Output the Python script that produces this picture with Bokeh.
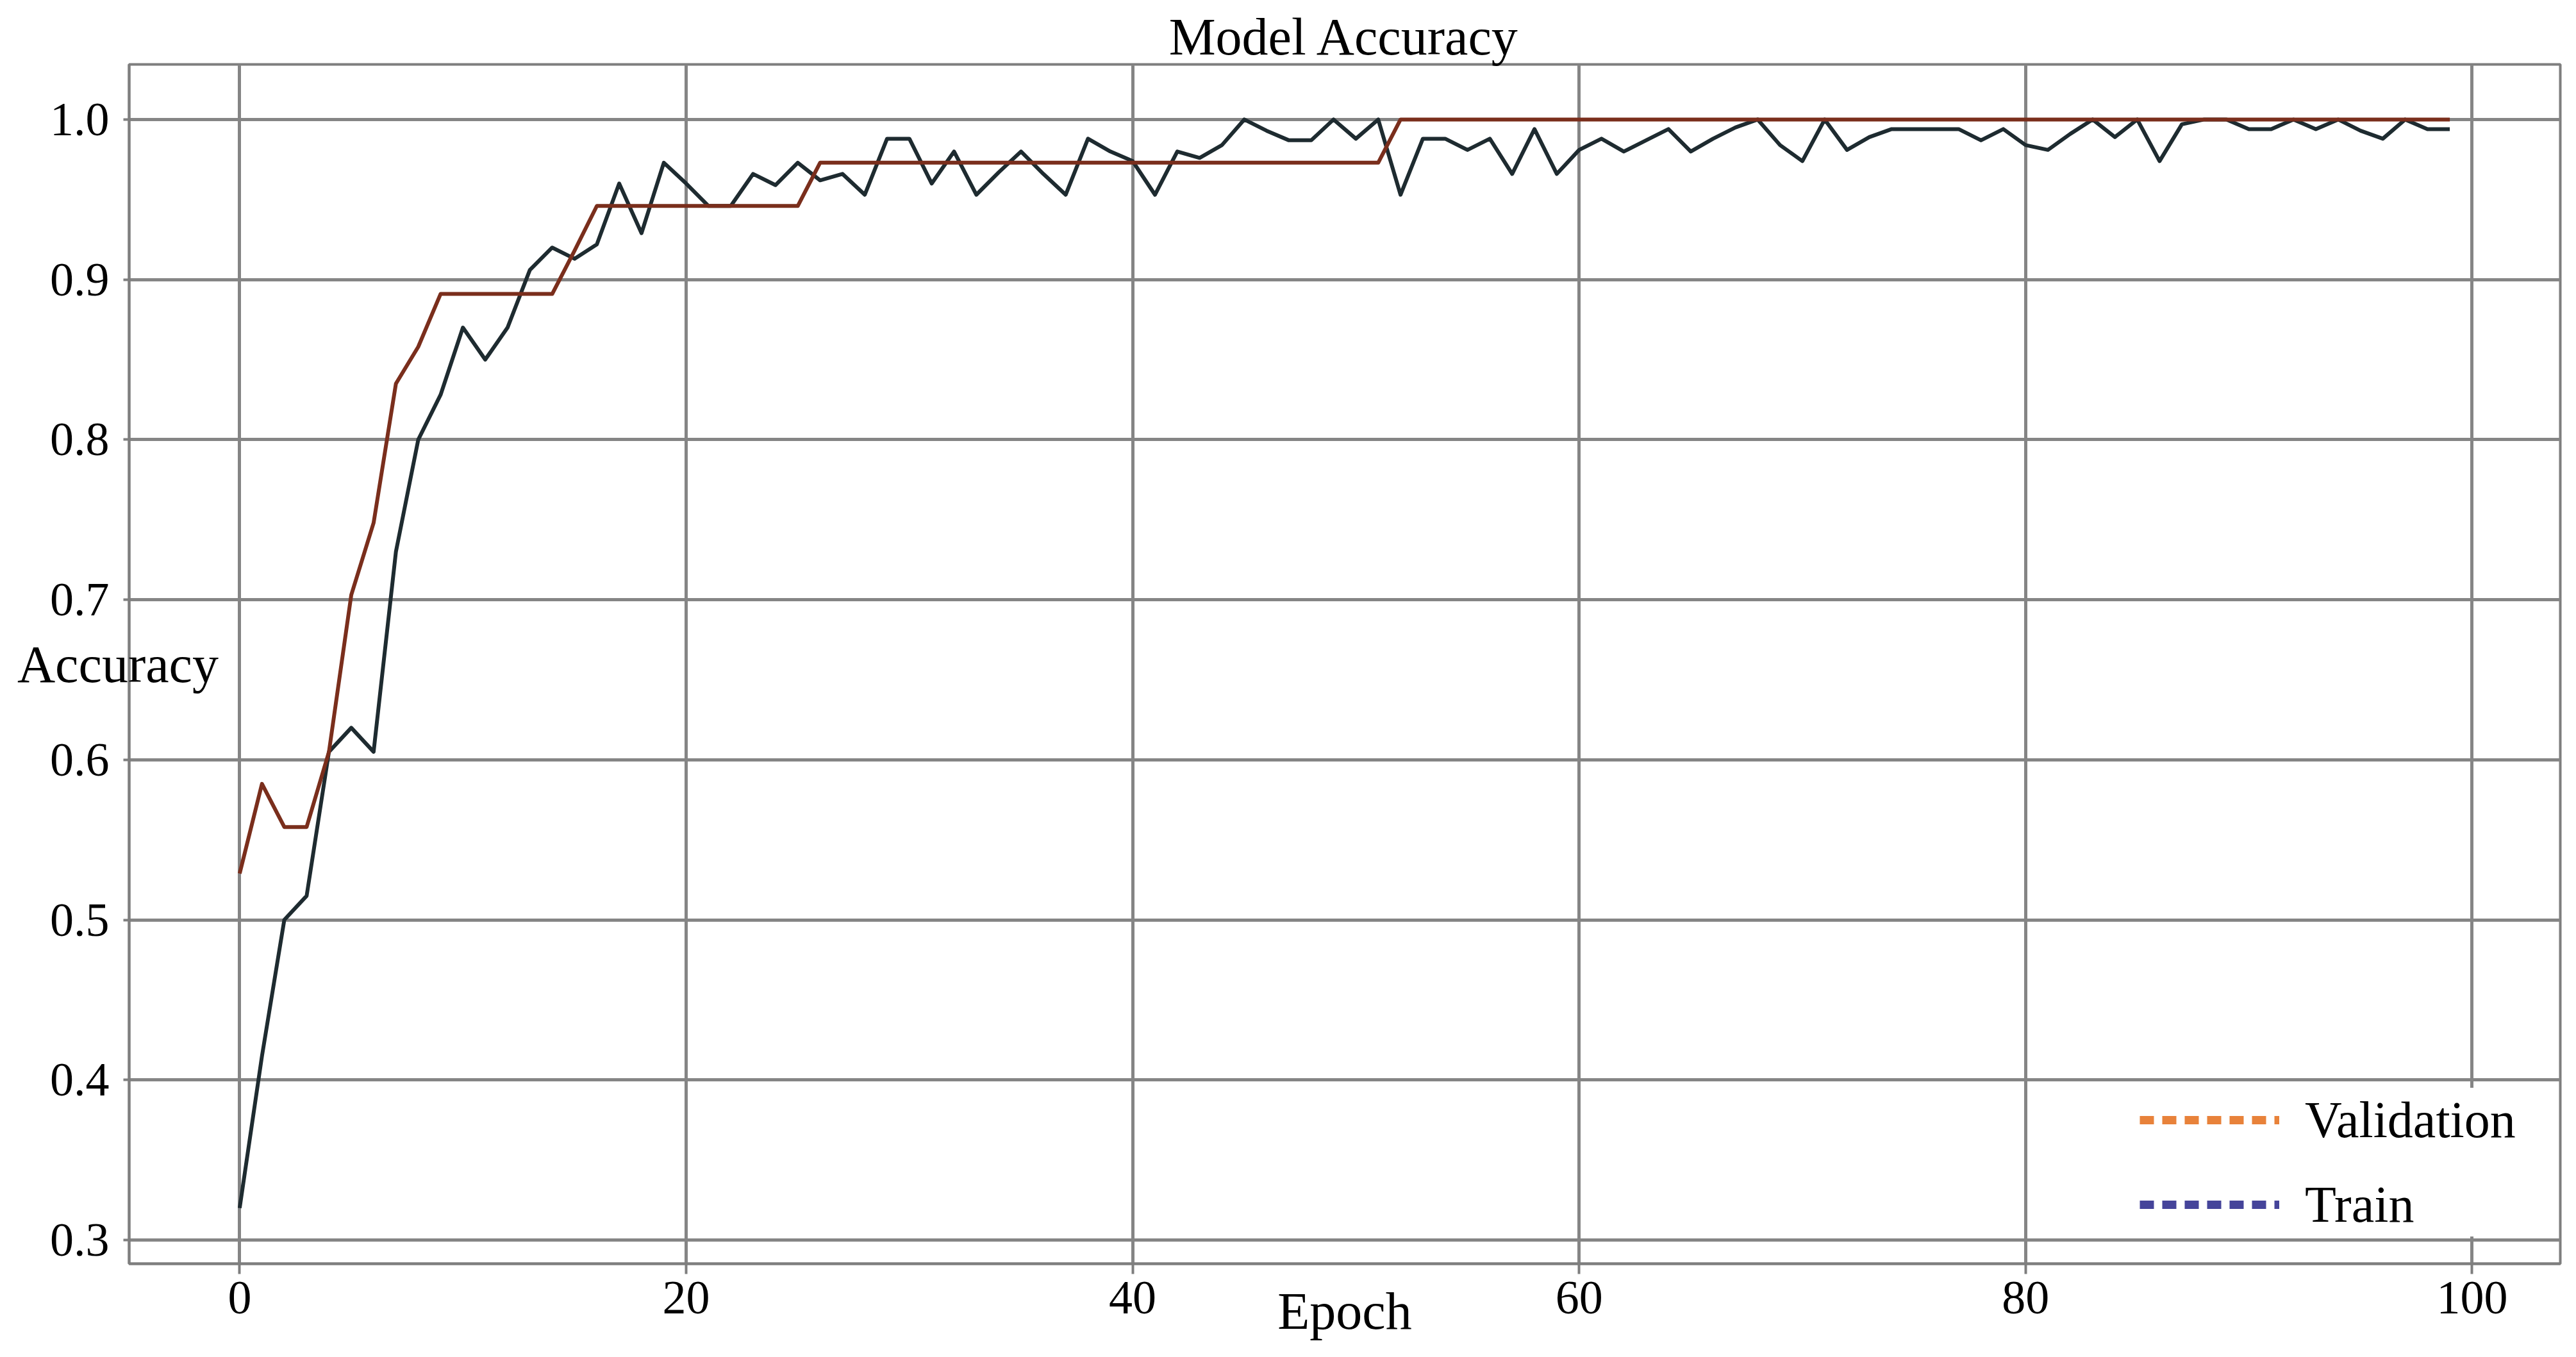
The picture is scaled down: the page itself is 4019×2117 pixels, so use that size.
from bokeh.plotting import figure
from bokeh.models import (Range1d, FixedTicker, Legend, LegendItem, ColumnDataSource,
                          PrintfTickFormatter)
from bokeh.embed import file_html
from bokeh.resources import INLINE

# ---------------- data ----------------
epochs = list(range(100))

train_acc = [
    0.320, 0.415, 0.500, 0.515, 0.605, 0.620, 0.605, 0.730, 0.800, 0.828,
    0.870, 0.850, 0.870, 0.906, 0.920, 0.913, 0.922, 0.960, 0.929, 0.973,
    0.960, 0.946, 0.946, 0.966, 0.959, 0.973, 0.962, 0.966, 0.953, 0.988,
    0.988, 0.960, 0.980, 0.953, 0.967, 0.980, 0.966, 0.953, 0.988, 0.980,
    0.974, 0.953, 0.980, 0.976, 0.984, 1.000, 0.993, 0.987, 0.987, 1.000,
    0.988, 1.000, 0.953, 0.988, 0.988, 0.981, 0.988, 0.966, 0.994, 0.966,
    0.981, 0.988, 0.980, 0.987, 0.994, 0.980, 0.988, 0.995, 1.000, 0.984,
    0.974, 1.000, 0.981, 0.989, 0.994, 0.994, 0.994, 0.994, 0.987, 0.994,
    0.984, 0.981, 0.991, 1.000, 0.989, 1.000, 0.974, 0.997, 1.000, 1.000,
    0.994, 0.994, 1.000, 0.994, 1.000, 0.993, 0.988, 1.000, 0.994, 0.994,
]

val_acc = [
    0.529, 0.585, 0.558, 0.558, 0.605, 0.703, 0.748, 0.835, 0.858, 0.891,
    0.891, 0.891, 0.891, 0.891, 0.891, 0.918, 0.946, 0.946, 0.946, 0.946,
    0.946, 0.946, 0.946, 0.946, 0.946, 0.946, 0.973, 0.973, 0.973, 0.973,
    0.973, 0.973, 0.973, 0.973, 0.973, 0.973, 0.973, 0.973, 0.973, 0.973,
    0.973, 0.973, 0.973, 0.973, 0.973, 0.973, 0.973, 0.973, 0.973, 0.973,
    0.973, 0.973, 1.000, 1.000, 1.000, 1.000, 1.000, 1.000, 1.000, 1.000,
    1.000, 1.000, 1.000, 1.000, 1.000, 1.000, 1.000, 1.000, 1.000, 1.000,
    1.000, 1.000, 1.000, 1.000, 1.000, 1.000, 1.000, 1.000, 1.000, 1.000,
    1.000, 1.000, 1.000, 1.000, 1.000, 1.000, 1.000, 1.000, 1.000, 1.000,
    1.000, 1.000, 1.000, 1.000, 1.000, 1.000, 1.000, 1.000, 1.000, 1.000,
]

x_ticks = [0, 20, 40, 60, 80, 100]
y_ticks = [0.3, 0.4, 0.5, 0.6, 0.7, 0.8, 0.9, 1.0]
series_names = ["Validation", "Train"]

# ---------------- styling ----------------
SERIF = "Liberation Serif"
GRID = "#858585"
FRAME = "#7e7e7e"

p = figure(
    width=4003, height=2111,
    output_backend="svg", toolbar_location=None,
    x_range=Range1d(-4.95, 103.95), y_range=Range1d(0.2852, 1.0344),
    min_border_left=201, min_border_right=9,
    min_border_top=100, min_border_bottom=140,
    background_fill_color="white", border_fill_color="white",
)

p.title.text = "Model Accuracy"
p.title.align = "center"
p.title.text_font = SERIF
p.title.text_font_size = "82px"
p.title.text_font_style = "normal"
p.title.text_color = "black"
p.title.standoff = -5

# grid
p.xgrid.grid_line_color = GRID
p.xgrid.grid_line_width = 5
p.ygrid.grid_line_color = GRID
p.ygrid.grid_line_width = 5
p.xgrid.ticker = FixedTicker(ticks=x_ticks)
p.ygrid.ticker = FixedTicker(ticks=y_ticks)

# axes
p.xaxis.ticker = FixedTicker(ticks=x_ticks)
p.yaxis.ticker = FixedTicker(ticks=y_ticks)
p.yaxis.formatter = PrintfTickFormatter(format="%.1f")
for ax in (p.xaxis[0], p.yaxis[0]):
    ax.axis_line_color = FRAME
    ax.axis_line_width = 4
    ax.major_tick_line_color = FRAME
    ax.major_tick_line_width = 4
    ax.major_tick_in = 0
    ax.minor_tick_line_color = None
    ax.major_label_text_font = SERIF
    ax.major_label_text_font_size = "74px"
    ax.major_label_text_color = "black"
    ax.axis_label_text_font = SERIF
    ax.axis_label_text_font_size = "82px"
    ax.axis_label_text_font_style = "normal"
    ax.axis_label_text_color = "black"
p.xaxis.major_tick_out = 16
p.xaxis.major_label_standoff = 12
p.yaxis.major_tick_out = 9
p.yaxis.major_label_standoff = 22

p.xaxis.axis_label = "Epoch"
p.xaxis.axis_label_standoff = -52
p.xaxis.axis_label_text_align = "right"
p.yaxis.axis_label = "Accuracy"
p.yaxis.axis_label_orientation = "horizontal"
p.yaxis.axis_label_standoff = -266

p.outline_line_color = FRAME
p.outline_line_width = 4

# data lines
p.line(epochs, train_acc, line_color="#1e2b30", line_width=6, line_join="round")
p.line(epochs, val_acc, line_color="#7a2e1c", line_width=6, line_join="round")

# legend (dashed swatches as in the reference); sources hold no visible point
nan = float("nan")
legend_src = ColumnDataSource(dict(x=[nan], y=[nan]))
r_val = p.line("x", "y", source=legend_src, line_color="#e8823a", line_width=13, line_dash="22 13")
r_tr = p.line("x", "y", source=legend_src, line_color="#45449a", line_width=13, line_dash="22 13")
legend = Legend(
    items=[LegendItem(label=series_names[0], renderers=[r_val]),
           LegendItem(label=series_names[1], renderers=[r_tr])],
    location=(3137, 42),
    label_text_font=SERIF, label_text_font_size="80px", label_text_color="black",
    glyph_width=218, glyph_height=100, label_height=100,
    label_standoff=40, spacing=32, padding=14, margin=0,
    border_line_color=None, background_fill_color="white", background_fill_alpha=1.0,
)
p.add_layout(legend)

open("out.html", "w").write(file_html(p, INLINE))
